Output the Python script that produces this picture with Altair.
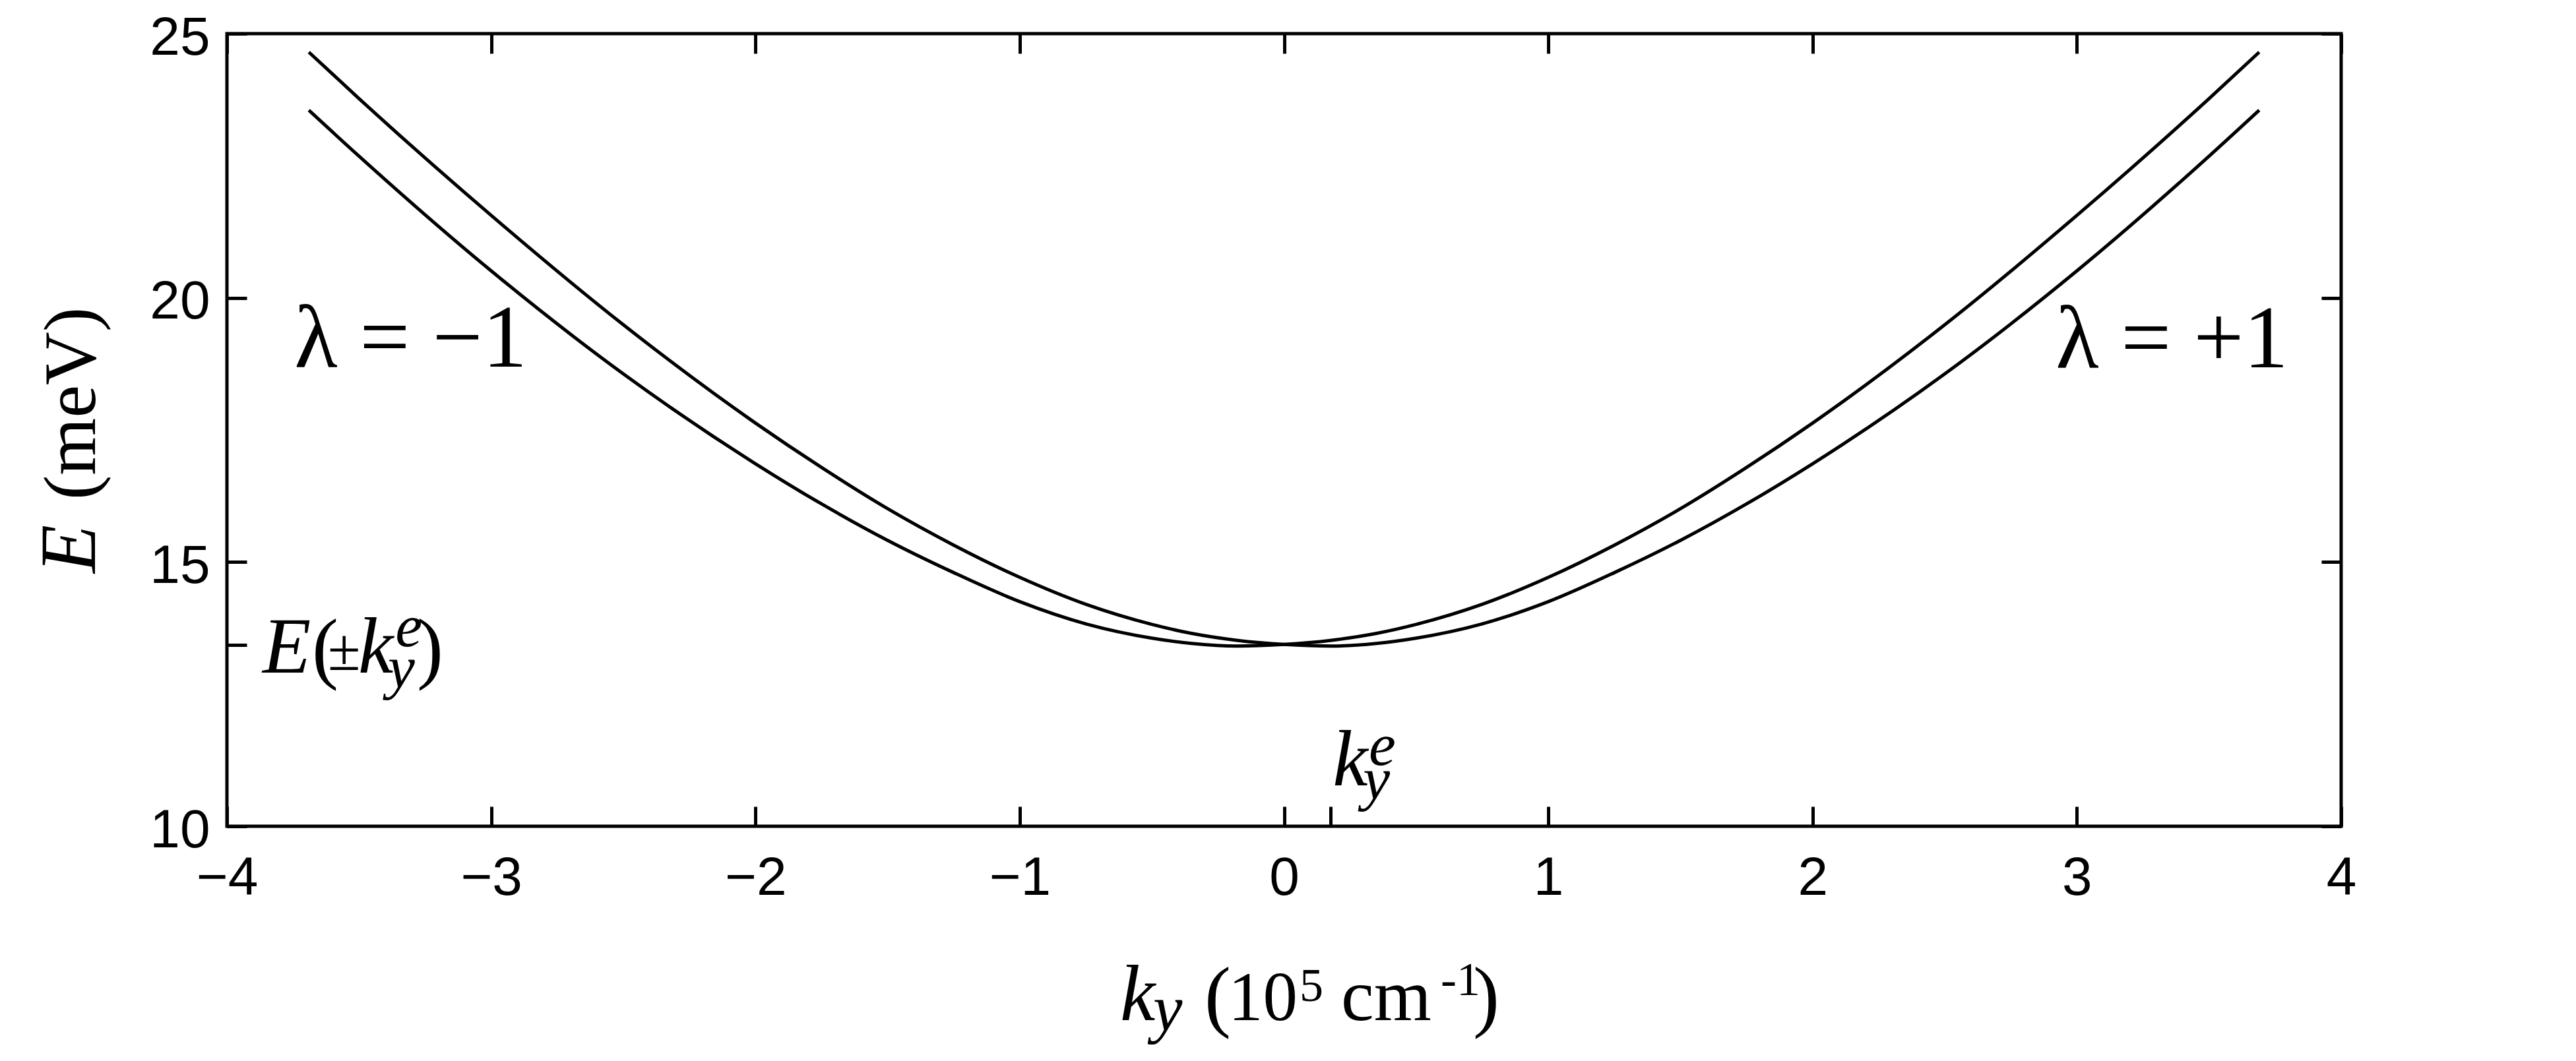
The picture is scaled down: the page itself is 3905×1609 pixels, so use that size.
import altair as alt
import pandas as pd

# ---- data ----
k_values = [-3.69, -3.5, -3.0, -2.5, -2.0, -1.75, -1.5, -1.25, -1.0, -0.75, -0.5, -0.35, -0.18,
            0.0, 0.18, 0.35, 0.5, 0.75, 1.0, 1.25, 1.5, 1.75, 2.0, 2.5, 3.0, 3.5, 3.69]
# branch that is lower on the left (minimum at -k_y^e)
energy_branch_a = [23.55, 22.68, 20.51, 18.56, 16.86, 16.10, 15.41, 14.80, 14.25, 13.83, 13.56, 13.46, 13.41,
                   13.44, 13.52, 13.65, 13.82, 14.20, 14.71, 15.32, 16.01, 16.79, 17.63, 19.49, 21.56, 23.77, 24.65]
# branch that is lower on the right (minimum at +k_y^e)
energy_branch_b = [24.65, 23.77, 21.56, 19.49, 17.63, 16.79, 16.01, 15.32, 14.71, 14.20, 13.82, 13.65, 13.52,
                   13.44, 13.41, 13.46, 13.56, 13.83, 14.25, 14.80, 15.41, 16.10, 16.86, 18.56, 20.51, 22.68, 23.55]

x_ticks = [-4, -3, -2, -1, 0, 1, 2, 3, 4]
y_ticks = [10, 15, 20, 25]
ke_tick = 0.177        # k_y^e
e_ke_tick = 13.43      # E(±k_y^e)

rows = []
for kk, a, b in zip(k_values, energy_branch_a, energy_branch_b):
    rows.append({"k": kk, "E": a, "curve": "a"})
    rows.append({"k": kk, "E": b, "curve": "b"})
df = pd.DataFrame(rows)

xs = alt.Scale(domain=[-4, 4], nice=False, zero=False)
ys = alt.Scale(domain=[10, 25], nice=False, zero=False)

common = dict(domain=False, ticks=True, tickSize=30, tickWidth=5, tickColor="black",
              offset=-30, grid=False, title=None, labelFont="Liberation Sans",
              labelFontSize=82, labelColor="black", labelOverlap=False)

x_bottom = alt.Axis(orient="bottom", values=x_ticks + [ke_tick], labelPadding=38, labelFlush=False,
                    labelExpr="abs(datum.value - 0.177) < 0.001 ? '' : (datum.value < 0 ? datum.label + '\u00a0\u00a0' : datum.label)",
                    **common)
y_left = alt.Axis(orient="left", values=y_ticks + [e_ke_tick], labelPadding=26, labelOffset=6,
                  labelExpr="abs(datum.value - 13.43) < 0.001 ? '' : datum.label", **common)
x_top = alt.Axis(orient="top", values=x_ticks, labels=False, **common)
y_right = alt.Axis(orient="right", values=y_ticks, labels=False, **common)

lines = alt.Chart(df).mark_line(color="black", strokeWidth=5, interpolate="monotone").encode(
    x=alt.X("k:Q", scale=xs, axis=x_bottom),
    y=alt.Y("E:Q", scale=ys, axis=y_left),
    detail="curve:N",
)
mirror = alt.Chart(df).mark_line(strokeOpacity=0).encode(
    x=alt.X("k:Q", scale=xs, axis=x_top),
    y=alt.Y("E:Q", scale=ys, axis=y_right),
    detail="curve:N",
)

SERIF = "Liberation Serif"


def dtext(k, e, s, size, italic=False, align="left"):
    kw = dict(font=SERIF, fontSize=size, align=align, baseline="alphabetic", color="black")
    if italic:
        kw["fontStyle"] = "italic"
    return alt.Chart(pd.DataFrame({"k": [k], "E": [e], "t": [s]})).mark_text(**kw).encode(
        x=alt.X("k:Q", scale=xs, axis=None),
        y=alt.Y("E:Q", scale=ys, axis=None),
        text="t:N",
    )


def ptext(px, py, s, size, italic=False, angle=None):
    kw = dict(font=SERIF, fontSize=size, align="left", baseline="alphabetic", color="black")
    if italic:
        kw["fontStyle"] = "italic"
    if angle is not None:
        kw["angle"] = angle
    return alt.Chart(pd.DataFrame({"t": [s]})).mark_text(**kw).encode(
        x=alt.value(px), y=alt.value(py), text="t:N"
    )


annotations = [
    dtext(-3.745, 18.70, "λ = −1", 135),
    dtext(3.80, 18.69, "λ = +1", 135, align="right"),
    # E(±k_y^e)
    dtext(-3.865, 12.907, "E", 120, italic=True),
    dtext(-3.678, 12.88, "(", 120),
    dtext(-3.618, 12.957, "±", 90),
    dtext(-3.503, 12.907, "k", 120, italic=True),
    dtext(-3.363, 13.406, "e", 92, italic=True),
    dtext(-3.391, 12.62, "y", 92, italic=True),
    dtext(-3.281, 12.88, ")", 120),
    # k_y^e
    dtext(0.184, 10.773, "k", 120, italic=True),
    dtext(0.321, 11.16, "e", 92, italic=True),
    dtext(0.2986, 10.51, "y", 92, italic=True),
]

titles = [
    # x title: k_y (10^5 cm^-1)
    ptext(1354, 1496, "k", 120, italic=True),
    ptext(1404, 1512, "y", 100, italic=True),
    ptext(1482, 1499, "(", 120),
    ptext(1518, 1496, "10", 105),
    ptext(1626, 1467, "5", 72),
    ptext(1689, 1496, "cm", 112),
    ptext(1840, 1458, "-1", 72),
    ptext(1889, 1499, ")", 120),
    # y title: E (meV)
    ptext(-200, 818, "E", 120, italic=True, angle=270),
    ptext(-200, 707, "(meV)", 112, angle=270),
]

chart = alt.layer(lines, mirror, *annotations, *titles).resolve_axis(
    x="independent", y="independent"
).properties(
    width=3205,
    height=1202,
    autosize=alt.AutoSizeParams(type="none"),
    padding={"left": 336, "top": 43, "right": 340, "bottom": 340},
    background="white",
).configure_view(stroke="black", strokeWidth=5)

chart.save("out.html", embed_options={"renderer": "svg", "actions": False})
